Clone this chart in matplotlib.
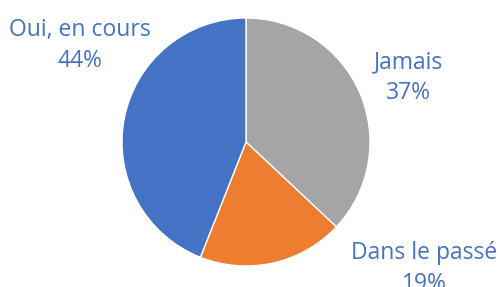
import matplotlib.pyplot as plt

labels = ['Jamais', 'Dans le passé', 'Oui, en cours']
values = [37, 19, 44]
colors = ['#A5A5A5', '#ED7D31', '#4472C4']
# label centres, in units of pie radius
label_pos = [(1.31, 0.52), (1.44, -1.02), (-1.34, 0.78)]

W, H = 498, 287
cx, cy, r = 246, 142, 124

fig = plt.figure(figsize=(W / 100, H / 100), dpi=100)
ax = fig.add_axes([(cx - r) / W, (H - cy - r) / H, 2 * r / W, 2 * r / H])

ax.pie(values, colors=colors, startangle=90, counterclock=False,
       wedgeprops=dict(edgecolor='white', linewidth=1))
ax.set_xlim(-1, 1)
ax.set_ylim(-1, 1)
ax.set_aspect('equal')
ax.axis('off')

for lab, v, (x, y) in zip(labels, values, label_pos):
    ax.text(x, y, f'{lab}\n{v}%', ha='center', va='center', fontsize=16.5,
            color='#4472C4', family='Open Sans', linespacing=1.4, clip_on=False)

fig.savefig('out.png', dpi=100)
